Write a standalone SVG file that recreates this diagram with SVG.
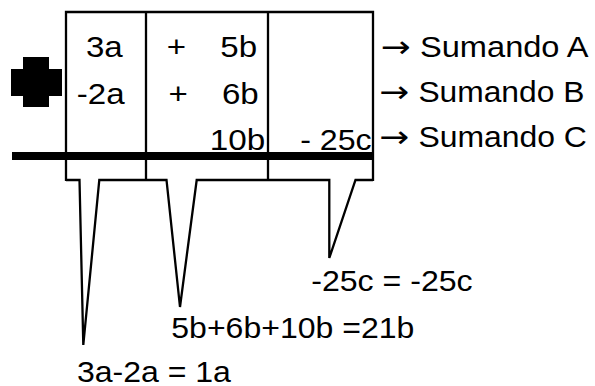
<svg xmlns="http://www.w3.org/2000/svg" width="595" height="386" viewBox="0 0 595 386">
<style>
.ln{fill:none;stroke:#000;stroke-width:2.3;stroke-linejoin:miter;stroke-linecap:butt}
.t{font-family:"Liberation Sans",Arial,sans-serif;font-size:29px;fill:#000}
.ar{font-family:"DejaVu Sans",sans-serif;font-size:30px;fill:#000}
</style>
<rect width="595" height="386" fill="#fff"/>
<g id="plus-sign">
<polygon points="23,57 49,57 49,69 62,69 62,96 49,96 49,107 23,107 23,96 11,96 11,69 23,69" fill="#000"/>
</g>
<g id="table">
<path class="ln" d="M66,181 V12 H373 V181 M146,12 V181 M268,12 V181"/>
</g>
<g id="column-a">
<text class="t" x="85.9" y="57" textLength="36.8" lengthAdjust="spacingAndGlyphs">3a</text>
<text class="t" x="76.8" y="103.5" textLength="47.8" lengthAdjust="spacingAndGlyphs">-2a</text>
</g>
<g id="column-b">
<text class="t" x="166.7" y="57" textLength="19.3" lengthAdjust="spacingAndGlyphs">+</text>
<text class="t" x="220.3" y="57" textLength="36.8" lengthAdjust="spacingAndGlyphs">5b</text>
<text class="t" x="168.4" y="103.5" textLength="19.3" lengthAdjust="spacingAndGlyphs">+</text>
<text class="t" x="221.9" y="103.5" textLength="36.8" lengthAdjust="spacingAndGlyphs">6b</text>
<text class="t" x="209.7" y="150" textLength="55.5" lengthAdjust="spacingAndGlyphs">10b</text>
</g>
<g id="column-c">
<text class="t" x="300.2" y="150" textLength="71.5" lengthAdjust="spacingAndGlyphs">- 25c</text>
</g>
<g id="bar">
<rect x="12" y="152" width="361" height="8" fill="#000"/>
</g>
<g id="labels">
<text class="ar" x="380.5" y="57" textLength="30" lengthAdjust="spacingAndGlyphs">→</text>
<text class="t" x="420" y="57" textLength="168.5" lengthAdjust="spacingAndGlyphs">Sumando A</text>
<text class="ar" x="379" y="102" textLength="30" lengthAdjust="spacingAndGlyphs">→</text>
<text class="t" x="418.4" y="102" textLength="166" lengthAdjust="spacingAndGlyphs">Sumando B</text>
<text class="ar" x="379" y="147" textLength="30" lengthAdjust="spacingAndGlyphs">→</text>
<text class="t" x="418.4" y="147" textLength="168.5" lengthAdjust="spacingAndGlyphs">Sumando C</text>
</g>
<g id="connectors">
<polyline class="ln" points="66,180 79.5,180 83.3,345 99.3,180 166.5,180 180,307 196.7,180 329.3,180 329.3,258 355.5,180 373,180"/>
</g>
<g id="results">
<text class="t" x="311.2" y="290.7" textLength="161.5" lengthAdjust="spacingAndGlyphs">-25c = -25c</text>
<text class="t" x="171.3" y="338" textLength="243" lengthAdjust="spacingAndGlyphs">5b+6b+10b =21b</text>
<text class="t" x="76.9" y="382" textLength="154" lengthAdjust="spacingAndGlyphs">3a-2a = 1a</text>
</g>
</svg>
